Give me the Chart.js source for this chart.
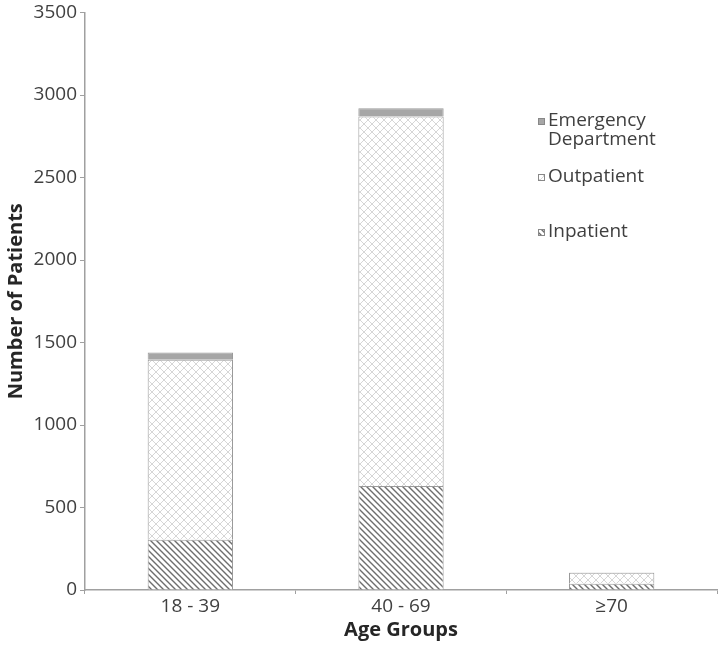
<!DOCTYPE html>
<html>
<head>
<meta charset="utf-8">
<script src="https://cdn.jsdelivr.net/npm/chart.js@4/dist/chart.umd.min.js"></script>
<style>
  html, body { margin: 0; padding: 0; background: #fff; }
  #wrap { width: 720px; height: 646px; }
</style>
</head>
<body>
<div id="wrap"><canvas id="chart"></canvas></div>
<script>
// categorias e valores
var ageGroups = ["18 - 39", "40 - 69", "\u226570"];
var inpatient = [305, 630, 38];
var outpatient = [1090, 2240, 66];
var emergency = [45, 50, 2];
var yTicks = [0, 500, 1000, 1500, 2000, 2500, 3000, 3500];

var FONT = "'Open Sans', sans-serif";

// padrão de hachura diagonal (Inpatient)
function hatchPattern() {
    var c = document.createElement('canvas');
    c.width = 6; c.height = 6;
    var g = c.getContext('2d');
    g.fillStyle = '#fff';
    g.fillRect(0, 0, 6, 6);
    g.strokeStyle = '#6e6e6e';
    g.lineWidth = 1.4;
    g.beginPath();
    g.moveTo(0, 0); g.lineTo(6, 6);
    g.moveTo(-3, 3); g.lineTo(3, 9);
    g.moveTo(3, -3); g.lineTo(9, 3);
    g.stroke();
    return g.createPattern(c, 'repeat');
}

// padrão xadrez claro (Outpatient)
function crossPattern() {
    var c = document.createElement('canvas');
    c.width = 8; c.height = 8;
    var g = c.getContext('2d');
    g.fillStyle = '#fff';
    g.fillRect(0, 0, 8, 8);
    g.strokeStyle = '#d6d6d6';
    g.lineWidth = 1;
    g.beginPath();
    g.moveTo(0, 0); g.lineTo(8, 8);
    g.moveTo(8, 0); g.lineTo(0, 8);
    g.stroke();
    return g.createPattern(c, 'repeat');
}

// legenda desenhada dentro da área do gráfico
var insideLegend = {
    id: 'insideLegend',
    afterDraw: function (chart) {
        var ctx = chart.ctx;
        var items = [
            { lines: ["Emergency", "Department"], y: 121, ds: 2 },
            { lines: ["Outpatient"], y: 177, ds: 1 },
            { lines: ["Inpatient"], y: 232, ds: 0 }
        ];
        ctx.save();
        ctx.font = "19px " + FONT;
        ctx.textBaseline = 'middle';
        items.forEach(function (it) {
            var ds = chart.data.datasets[it.ds];
            ctx.fillStyle = ds.backgroundColor;
            ctx.fillRect(538, it.y - 3, 7, 7);
            ctx.strokeStyle = '#888';
            ctx.lineWidth = 1;
            ctx.strokeRect(538.5, it.y - 2.5, 6, 6);
            ctx.fillStyle = '#404040';
            it.lines.forEach(function (t, i) {
                ctx.fillText(t, 548, it.y + i * 19);
            });
        });
        ctx.restore();
    }
};

new Chart(document.getElementById('chart'), {
    type: 'bar',
    data: {
        labels: ageGroups,
        datasets: [
            { label: "Inpatient", data: inpatient, backgroundColor: hatchPattern() },
            { label: "Outpatient", data: outpatient, backgroundColor: crossPattern() },
            { label: "Emergency Department", data: emergency, backgroundColor: '#a6a6a6' }
        ].map(function (d) {
            d.borderColor = '#9a9a9a';
            d.borderWidth = 1;
            d.barPercentage = 0.405;
            d.categoryPercentage = 1;
            return d;
        })
    },
    options: {
        responsive: true,
        maintainAspectRatio: false,
        animation: false,
        layout: { padding: { top: 6, right: 3, left: 0, bottom: 0 } },
        plugins: {
            legend: { display: false },
            tooltip: { enabled: false }
        },
        scales: {
            x: {
                stacked: true,
                offset: true,
                grid: { display: true, drawOnChartArea: false, offset: true, tickLength: 4, color: '#a0a0a0' },
                border: { color: '#a0a0a0', width: 1.5 },
                ticks: { color: '#404040', font: { family: FONT, size: 19 }, padding: 1 },
                title: { display: true, text: 'Age Groups', color: '#262626', font: { family: FONT, size: 20, weight: 'bold' }, padding: { top: 4 } },
                afterFit: function (s) { s.height = 56; }
            },
            y: {
                stacked: true,
                min: 0,
                max: 3500,
                afterBuildTicks: function (s) { s.ticks = yTicks.map(function (v) { return { value: v }; }); },
                grid: { display: true, drawOnChartArea: false, tickLength: 5, color: '#a0a0a0' },
                border: { color: '#a0a0a0', width: 1.5 },
                ticks: { color: '#404040', font: { family: FONT, size: 19, lineHeight: 1 }, padding: 3, callback: function (v) { return String(v); } },
                title: { display: true, text: 'Number of Patients', color: '#262626', font: { family: FONT, size: 20, weight: 'bold' }, padding: { bottom: 2 } },
                afterFit: function (s) { s.width = 85; }
            }
        }
    },
    plugins: [insideLegend]
});
</script>
</body>
</html>
